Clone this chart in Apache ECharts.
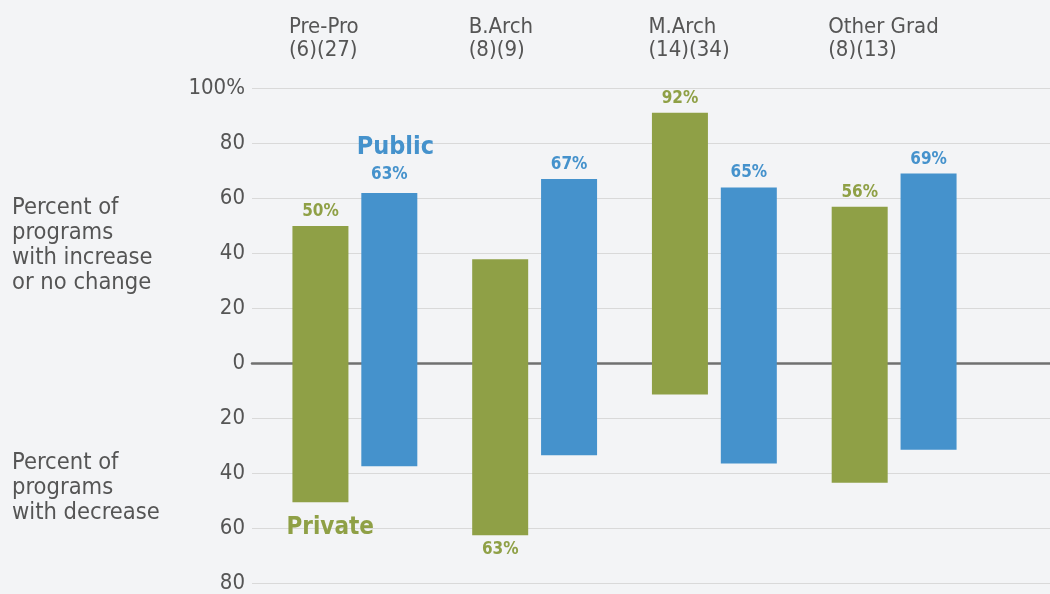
<!DOCTYPE html>
<html>
<head>
<meta charset="utf-8">
<script src="https://cdn.jsdelivr.net/npm/echarts@6/dist/echarts.min.js"></script>
<style>
  html, body { margin: 0; padding: 0; background: #f3f4f6; }
  #chart { width: 1050px; height: 594px; }
</style>
</head>
<body>
<div id="chart"></div>
<script>
const categories = ["Pre-Pro", "B.Arch", "M.Arch", "Other Grad"];
const counts = ["(6)(27)", "(8)(9)", "(14)(34)", "(8)(13)"];
// percent of programs with increase / no change (up) and with decrease (down)
const privateUp = [50, 38, 91, 57];
const privateDown = [-50, -62, -11, -43];
const publicUp = [62, 67, 64, 69];
const publicDown = [-37, -33, -36, -31];
const privateLabels = ["50%", "63%", "92%", "56%"];
const publicLabels = ["63%", "67%", "65%", "69%"];
const yTicks = [-80, -60, -40, -20, 0, 20, 40, 60, 80, 100];

const green = "#8fa046";
const blue = "#4592cc";
const textColor = "#555555";
const font = "DejaVu Sans Condensed";

const chart = echarts.init(document.getElementById("chart"), null, { renderer: "canvas" });

const valueLabel = (color) => ({
  show: true,
  color: color,
  fontFamily: font,
  fontWeight: "bold",
  fontSize: 17,
  distance: 6,
});

const option = {
  backgroundColor: "#f3f4f6",
  animation: false,
  grid: [
    { left: 252, right: 0, top: 88, bottom: 9 },
    { left: 265, right: 66, top: 88, bottom: 9 },
  ],
  xAxis: [
    {
      gridIndex: 0,
      type: "category",
      data: categories,
      axisTick: { show: false },
      axisLabel: { show: false },
      axisLine: { show: true, onZero: true, lineStyle: { color: "#707070", width: 2.5 } },
    },
    {
      gridIndex: 1,
      type: "category",
      data: categories,
      show: false,
    },
  ],
  yAxis: [
    {
      gridIndex: 0,
      type: "value",
      min: yTicks[0],
      max: yTicks[yTicks.length - 1],
      interval: 20,
      axisLine: { show: false },
      axisTick: { show: false },
      splitLine: { lineStyle: { color: "#d9d9d9", width: 1 } },
      axisLabel: {
        color: textColor,
        fontFamily: font,
        fontSize: 22,
        margin: 7,
        formatter: (v) => (v === 100 ? "100%" : String(Math.abs(v))),
      },
    },
    {
      gridIndex: 1,
      type: "value",
      min: yTicks[0],
      max: yTicks[yTicks.length - 1],
      interval: 20,
      show: false,
      splitLine: { show: false },
    },
  ],
  series: [
    {
      name: "Private",
      type: "bar",
      xAxisIndex: 1,
      yAxisIndex: 1,
      stack: "private",
      barWidth: 56,
      barGap: "23%",
      itemStyle: { color: green },
      label: Object.assign(valueLabel(green), {
        position: "top",
        formatter: (p) => (privateUp[p.dataIndex] >= -privateDown[p.dataIndex] ? privateLabels[p.dataIndex] : ""),
      }),
      data: privateUp,
    },
    {
      name: "Private",
      type: "bar",
      xAxisIndex: 1,
      yAxisIndex: 1,
      stack: "private",
      barWidth: 56,
      barGap: "23%",
      itemStyle: { color: green },
      label: Object.assign(valueLabel(green), {
        position: "bottom",
        formatter: (p) => (privateUp[p.dataIndex] < -privateDown[p.dataIndex] ? privateLabels[p.dataIndex] : ""),
      }),
      data: privateDown.map((v, i) =>
        i === 0
          ? {
              value: v,
              label: {
                position: [-6, "100%"],
                align: "left",
                verticalAlign: "top",
                offset: [0, 14],
                fontSize: 24,
                formatter: "Private",
              },
            }
          : v
      ),
    },
    {
      name: "Public",
      type: "bar",
      xAxisIndex: 1,
      yAxisIndex: 1,
      stack: "public",
      barWidth: 56,
      barGap: "23%",
      itemStyle: { color: blue },
      label: Object.assign(valueLabel(blue), {
        position: "top",
        formatter: (p) =>
          p.dataIndex === 0 ? "{t|Public}\n{v|" + publicLabels[0] + "}" : publicLabels[p.dataIndex],
        rich: {
          t: { color: blue, fontFamily: font, fontWeight: "bold", fontSize: 25, lineHeight: 30, padding: [0, 0, 0, 12] },
          v: { color: blue, fontFamily: font, fontWeight: "bold", fontSize: 17, lineHeight: 24 },
        },
      }),
      data: publicUp,
    },
    {
      name: "Public",
      type: "bar",
      xAxisIndex: 1,
      yAxisIndex: 1,
      stack: "public",
      barWidth: 56,
      barGap: "23%",
      itemStyle: { color: blue },
      data: publicDown,
    },
  ],
};

chart.setOption(option);

// category headers, left-aligned over each private bar
const headers = categories.map((c, i) => {
  const x = chart.convertToPixel({ xAxisIndex: 1 }, c);
  return {
    type: "text",
    left: x - 66,
    top: 16,
    style: {
      text: c + "\n" + counts[i],
      fill: textColor,
      font: "22px '" + font + "'",
      lineHeight: 23,
    },
  };
});

chart.setOption({
  graphic: headers.concat([
    {
      type: "text",
      left: 12,
      top: 195,
      style: {
        text: "Percent of\nprograms\nwith increase\nor no change",
        fill: textColor,
        font: "23.5px '" + font + "'",
        lineHeight: 25,
      },
    },
    {
      type: "text",
      left: 12,
      top: 450,
      style: {
        text: "Percent of\nprograms\nwith decrease",
        fill: textColor,
        font: "23.5px '" + font + "'",
        lineHeight: 25,
      },
    },
  ]),
});
</script>
</body>
</html>
